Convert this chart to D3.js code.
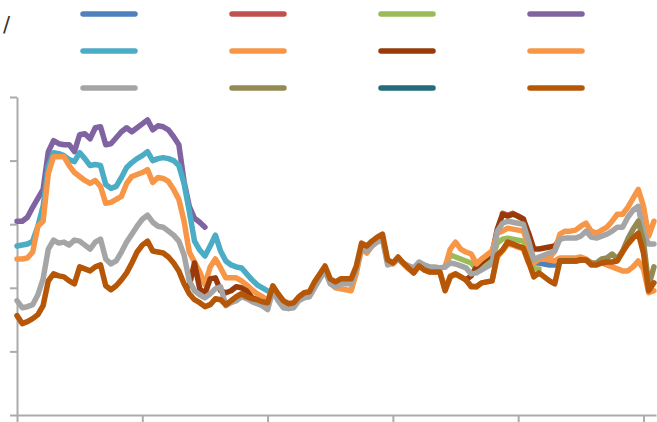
<!DOCTYPE html>
<html>
<head>
<meta charset="utf-8">
<script src="https://cdn.jsdelivr.net/npm/d3@7"></script>
<style>
  html, body { margin: 0; padding: 0; background: #fff; }
  svg { display: block; }
</style>
</head>
<body>
<svg id="chart" width="657" height="422"></svg>
<script>
// Semi-monthly observations, expressed in months from the start of the series
const periodCount = 123;
const months = Array.from({ length: periodCount }, (_, i) => i / 2);
const yearTicks = [0, 12, 24, 36, 48, 60];
const valueTicks = [0, 64, 128, 192, 256, 320];

// Series values (null where a series has no observation)
const blueVals = { start: 99, values: [153, 153, 152, 151, 151, 157] };
const redVals = { start: 93, values: [203, 201, 203, 200, 197] };
const greenVals = { start: 82, values: [149, 161, 159, 157, 155, 153, 147, 151, 155, 157, 173, 177, 178, 177, 176, 175, 160, 147, 147] };
const purpleVals = { start: 0, values: [195, 195, 199, 209, 218, 227, 265, 276, 273, 272, 272, 265, 282, 283, 278, 289, 290, 272, 273, 279, 285, 289, 285, 289, 293, 297, 287, 291, 290, 287, 280, 272, 235, 210, 198, 194, 189] };
const tealVals = { start: 0, values: [170, 171, 172, 175, 190, 210, 250, 264, 263, 261, 257, 255, 264, 258, 251, 252, 251, 232, 228, 230, 239, 249, 254, 258, 261, 265, 256, 258, 259, 258, 256, 251, 233, 205, 175, 166, 160, 170, 181, 165, 155, 151, 149, 148, 142, 136, 131, 128, 125, 122, 120, 115] };
const orangeVals = { start: 0, values: [
  157, 157, 158, 164, 190, 195, 243, 260, 260, 260,
  251, 244, 240, 236, 233, 236, 230, 213, 214, 217,
  220, 233, 240, 242, 244, 247, 234, 239, 238, 235,
  227, 217, 195, 164, 154, 144, 131, 149, 157, 148,
  138, 138, 138, 135, 131, 126, 122, 119, 115, 128,
  120, 113, 110, 111, 117, 121, 122, 132, 140, 147,
  133, 128, 127, 126, 125, 143, 167, 163, 170, 176,
  179, 153, 152, 157, 152, 147, 143, 150, 146, 144,
  144, 144, 127, 140, 142, 139, 136, 130, 129, 133,
  134, 135, 159, 165, 172, 171, 169, 167, 153, 153,
  157, 157, 156, 155, 158, 158, 158, 158, 159, 157,
  153, 152, 153, 151, 149, 147, 145, 145, 149, 155,
  147, 123, 125] };
const darkRedValsA = { start: 33, values: [130, 153, 127, 122, 137, 138, 125, 123, 125, 129, 128, 125, 118, 116] };
const darkRedValsB = { start: 86, values: [136, 140, 149, 154, 158, 162, 187, 202, 200, 202, 200, 197, 183, 167, 167, 168, 169, 170, 177] };
const lightOrangeVals = { start: 82, values: [149, 167, 174, 167, 164, 162, 152, 157, 161, 165, 183, 185, 188, 187, 186, 185, 170, 157, 157, 157, 158, 165, 182, 185, 185, 186, 190, 193, 185, 183, 186, 189, 195, 202, 202, 209, 218, 227, 210, 180, 195] };
const grayVals = { start: 0, values: [
  115, 108, 109, 111, 121, 137, 167, 176, 173, 174,
  171, 176, 175, 171, 167, 174, 177, 157, 152, 155,
  164, 174, 182, 190, 197, 201, 194, 190, 189, 185,
  181, 175, 161, 135, 125, 121, 118, 122, 127, 129,
  110, 113, 115, 119, 117, 114, 112, 110, 106, 125,
  115, 108, 107, 108, 115, 118, 119, 128, 137, 145,
  132, 129, 132, 132, 132, 147, 169, 165, 170, 174,
  177, 151, 153, 157, 153, 150, 148, 154, 151, 149,
  149, 148, 149, 153, 152, 150, 148, 142, 143, 146,
  149, 152, 185, 193, 195, 194, 193, 192, 175, 156,
  159, 161, 163, 165, 177, 178, 178, 178, 180, 185,
  179, 178, 180, 182, 185, 189, 189, 199, 206, 210,
  183, 172, 172] };
const oliveVals = { start: 108, values: [156, 156, 153, 153, 157, 158, 162, 157, 165, 177, 187, 195, 175, 130, 149] };
const darkTealVals = { start: 104, values: [155, 155, 155, 155, 156] };
const darkOrangeVals = { start: 0, values: [
  100, 92, 94, 97, 101, 110, 135, 142, 140, 139,
  135, 132, 149, 147, 145, 149, 151, 130, 126, 130,
  136, 143, 153, 164, 171, 175, 165, 164, 163, 159,
  153, 145, 132, 122, 116, 113, 109, 111, 117, 116,
  111, 115, 119, 122, 119, 117, 116, 114, 113, 130,
  122, 115, 112, 113, 119, 123, 124, 134, 142, 150,
  137, 134, 137, 137, 137, 150, 173, 170, 175, 179,
  182, 156, 153, 159, 153, 148, 143, 150, 146, 144,
  144, 144, 125, 139, 142, 139, 136, 129, 129, 133,
  134, 135, 161, 166, 174, 172, 170, 168, 154, 139,
  143, 139, 135, 132, 155, 155, 155, 155, 156, 156,
  151, 151, 153, 154, 154, 155, 164, 172, 178, 183,
  163, 125, 133] };

// Series in drawing order (later series are drawn on top)
const seriesList = [
  { color: "#4F81BD", parts: [blueVals] },
  { color: "#C0504D", parts: [redVals] },
  { color: "#9BBB59", parts: [greenVals] },
  { color: "#8064A2", parts: [purpleVals] },
  { color: "#4BACC6", parts: [tealVals] },
  { color: "#F79646", parts: [orangeVals] },
  { color: "#983A0A", parts: [darkRedValsA, darkRedValsB] },
  { color: "#F79646", parts: [lightOrangeVals] },
  { color: "#A5A5A5", parts: [grayVals] },
  { color: "#948A54", parts: [oliveVals] },
  { color: "#246C7C", parts: [darkTealVals] },
  { color: "#B65708", parts: [darkOrangeVals] }
];

// Expand start/values blocks onto the shared period axis
function toFullSeries(parts) {
  const out = new Array(periodCount).fill(null);
  parts.forEach(p => p.values.forEach((v, k) => { out[p.start + k] = v; }));
  return out;
}

const svg = d3.select("#chart");
const plot = { left: 17, right: 656, top: 97, bottom: 415 };

const x = d3.scaleLinear().domain([0, 61.2]).range([plot.left, plot.right]);
const y = d3.scaleLinear().domain([0, 320]).range([plot.bottom, plot.top]);

// Axis title fragment
svg.append("text")
  .attr("x", 3).attr("y", 32)
  .attr("font-family", "DejaVu Sans, sans-serif")
  .attr("font-size", 21)
  .attr("fill", "#333")
  .text("/");

// Legend: swatches only, four per row
const legend = svg.append("g");
seriesList.forEach((s, i) => {
  const col = i % 4, row = Math.floor(i / 4);
  const lx = 83 + col * 149, ly = 14 + row * 37;
  legend.append("line")
    .attr("x1", lx).attr("x2", lx + 52)
    .attr("y1", ly).attr("y2", ly)
    .attr("stroke", s.color)
    .attr("stroke-width", 5.5)
    .attr("stroke-linecap", "round");
});

// Axes
const axisColor = "#ABABAB";
const yAxis = svg.append("g")
  .attr("transform", `translate(${plot.left},0)`)
  .call(d3.axisLeft(y).tickValues(valueTicks).tickSize(7).tickSizeOuter(0).tickFormat(""));
const xAxis = svg.append("g")
  .attr("transform", `translate(0,${plot.bottom})`)
  .call(d3.axisBottom(x).tickValues(yearTicks).tickSize(8).tickSizeOuter(0).tickFormat(""));
[yAxis, xAxis].forEach(g => {
  g.selectAll("path, line").attr("stroke", axisColor).attr("stroke-width", 2);
});

// Lines
const line = d3.line()
  .defined(d => d.v !== null)
  .x(d => x(d.m))
  .y(d => y(d.v));

const linesG = svg.append("g");
seriesList.forEach(s => {
  const full = toFullSeries(s.parts);
  const pts = months.map((m, i) => ({ m, v: full[i] }));
  linesG.append("path")
    .datum(pts)
    .attr("d", line)
    .attr("fill", "none")
    .attr("stroke", s.color)
    .attr("stroke-width", 5.5)
    .attr("stroke-linejoin", "round")
    .attr("stroke-linecap", "round");
});
</script>
</body>
</html>
